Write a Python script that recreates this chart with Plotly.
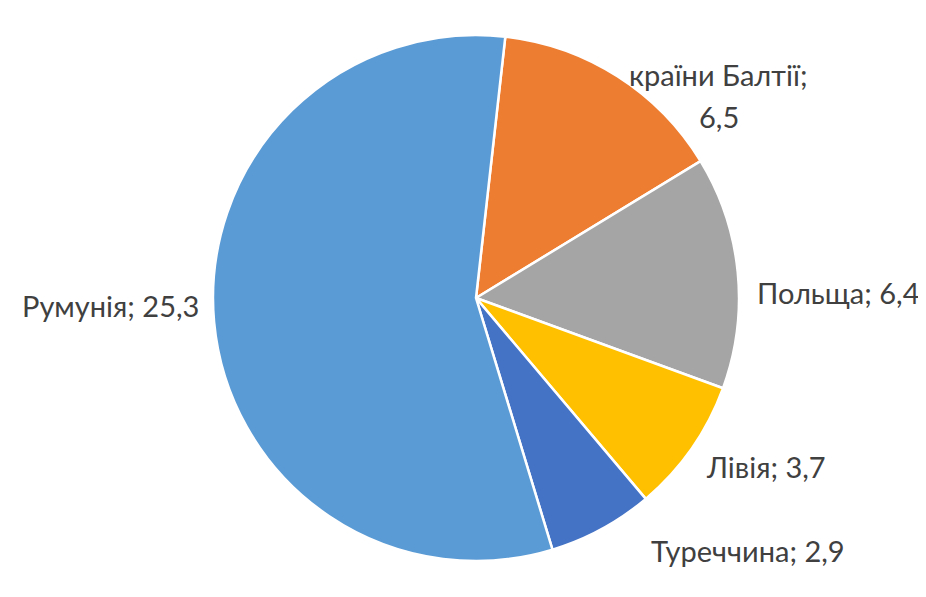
import plotly.graph_objects as go

# values in the original (comma decimal)
labels = ['країни Балтії', 'Польща', 'Лівія', 'Туреччина', 'Румунія']
values = [6.5, 6.4, 3.7, 2.9, 25.3]
value_text = ['6,5', '6,4', '3,7', '2,9', '25,3']
colors = ['#ED7D31', '#A5A5A5', '#FFC000', '#4472C4', '#5B9BD5']

W, H = 926, 597
off = 8  # page margin of the html body
cx, cy, r = 476 - off, 298 - off, 263

fig = go.Figure(go.Pie(
    labels=labels,
    values=values,
    sort=False,
    direction='clockwise',
    rotation=6.4,
    marker=dict(colors=colors, line=dict(color='white', width=2.5)),
    textinfo='none',
    hoverinfo='label+value',
    domain=dict(x=[(cx - r) / W, (cx + r) / W], y=[1 - (cy + r) / H, 1 - (cy - r) / H]),
    showlegend=False,
))

font = dict(size=29, color='#404040', family='Lato')


def put(txt, x, y):
    fig.add_annotation(
        x=(x - off) / W, y=1 - (y - off) / H, xref='paper', yref='paper',
        text=txt, showarrow=False, xanchor='center', yanchor='middle', font=font,
    )


# first label is wrapped on two lines in the original
put(f'{labels[0]};', 718, 75)
put(value_text[0], 719, 117)

# label placement (pixels from the top-left)
label_pos = [(838, 292), (766, 466), (748, 550), (110, 305)]
for i, (x, y) in enumerate(label_pos, start=1):
    put(f'{labels[i]}; {value_text[i]}', x, y)

fig.update_layout(
    width=W, height=H,
    margin=dict(l=0, r=0, t=0, b=0),
    paper_bgcolor='white',
    plot_bgcolor='white',
)

fig.write_html('out.html')
